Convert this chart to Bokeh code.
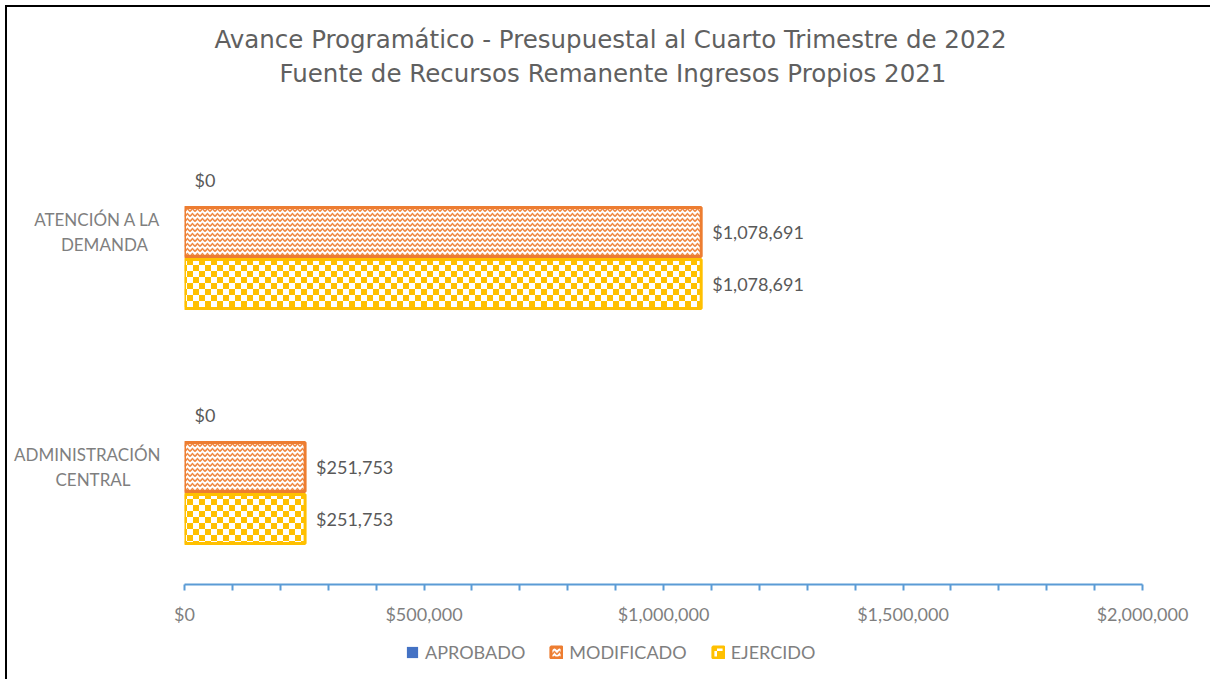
import base64
import struct
import zlib

from bokeh.plotting import figure
from bokeh.layouts import column, row
from bokeh.models import (Range1d, FixedTicker, NumeralTickFormatter, Title, Spacer,
                          ColumnDataSource, Legend, LegendItem, ImageURLTexture)
from bokeh.transform import dodge
from bokeh.core.properties import value
from bokeh.embed import file_html
from bokeh.resources import INLINE

# ---- data ----
categories = ["ADMINISTRACIÓN CENTRAL", "ATENCIÓN A LA DEMANDA"]   # bottom -> top
category_lines = [["ADMINISTRACIÓN", "CENTRAL"], ["ATENCIÓN A LA", "DEMANDA"]]
series_names = ["APROBADO", "MODIFICADO", "EJERCIDO"]
aprobado = [0, 0]
modificado = [251753, 1078691]
ejercido = [251753, 1078691]
x_ticks = list(range(0, 2000001, 100000))
x_label_ticks = [0, 500000, 1000000, 1500000, 2000000]
title_line1 = "Avance Programático - Presupuestal al Cuarto Trimestre de 2022"
title_line2 = "Fuente de Recursos Remanente Ingresos Propios 2021"

def money(v):
    return "${:,.0f}".format(v)

centers = [i + 0.5 for i in range(len(categories))]
src = ColumnDataSource(dict(
    cat=categories,
    ypos=centers,
    aprobado=aprobado,
    modificado=modificado,
    ejercido=ejercido,
    ap_txt=[money(v) for v in aprobado],
    mod_txt=[money(v) for v in modificado],
    eje_txt=[money(v) for v in ejercido],
))

GRAY = "#7F7F7F"
DARK = "#595959"
BLUE = "#4472C4"
ORANGE = "#ED7D31"
YELLOW = "#FFC000"
AXIS_BLUE = "#5B9BD5"
FONT = "Lato"
TFONT = "DejaVu Sans"
W = 1203
H_MAIN = 626
H_LEG = 46


# small checkerboard tile (texture for the EJERCIDO bars)
def checker_png(cell=6, rgba=(255, 192, 0, 255)):
    n = cell * 2
    rows = []
    for yy in range(n):
        r = bytearray(b"\x00")
        for xx in range(n):
            on = ((xx // cell) + (yy // cell)) % 2 == 0
            r += bytes(rgba) if on else bytes((255, 255, 255, 255))
        rows.append(bytes(r))
    raw = b"".join(rows)

    def chunk(t, d):
        return (struct.pack(">I", len(d)) + t + d +
                struct.pack(">I", zlib.crc32(t + d) & 0xFFFFFFFF))
    png = (b"\x89PNG\r\n\x1a\n" +
           chunk(b"IHDR", struct.pack(">IIBBBBB", n, n, 8, 6, 0, 0, 0)) +
           chunk(b"IDAT", zlib.compress(raw)) + chunk(b"IEND", b""))
    return "data:image/png;base64," + base64.b64encode(png).decode()


checker = ImageURLTexture(url=checker_png(), repetition="repeat")

p = figure(width=W, height=H_MAIN,
           y_range=Range1d(0, len(categories)),
           x_range=Range1d(0, 2000000),
           output_backend="svg", toolbar_location=None,
           min_border_left=177, min_border_right=W - 1135,
           min_border_bottom=49, min_border_top=107)

p.title.text = title_line1
p.title.align = "left"
p.title.offset = 30
p.title.text_font = TFONT
p.title.text_font_size = "24.5px"
p.title.text_font_style = "normal"
p.title.text_color = "#606060"
p.title.standoff = 4
gap = Title(text=" ", text_font_size="1px", standoff=23)
p.add_layout(gap, "above")
t2 = Title(text=title_line2, align="left", offset=95, text_font=TFONT,
           text_font_size="24.5px", text_font_style="normal", text_color="#606060",
           standoff=2)
p.add_layout(t2, "above")

off = 0.221
h = 0.208

ap_style = dict(fill_color=BLUE, line_alpha=0)
mod_style = dict(fill_color="white", line_color=ORANGE, line_width=3,
                 hatch_pattern=value("horizontal_wave"), hatch_color=ORANGE,
                 hatch_scale=5, hatch_weight=1.6, hatch_alpha=0.9)
eje_style = dict(fill_color="white", line_color=YELLOW, line_width=3,
                 hatch_pattern=value("checker"), hatch_extra={"checker": checker},
                 hatch_color=YELLOW, hatch_scale=12)

p.hbar(y=dodge("ypos", off), left=0, right="aprobado", height=h, source=src, **ap_style)
p.hbar(y=dodge("ypos", 0), left=0, right="modificado", height=h, source=src, **mod_style)
p.hbar(y=dodge("ypos", -off), left=0, right="ejercido", height=h, source=src, **eje_style)

for col, txt, o, xo in [("aprobado", "ap_txt", off, 10), ("modificado", "mod_txt", 0, 11),
                        ("ejercido", "eje_txt", -off, 11)]:
    p.text(x=col, y=dodge("ypos", o), text=txt, source=src,
           x_offset=xo, text_baseline="middle", text_align="left",
           text_font=value(FONT), text_font_size="18px", text_color=DARK)

# y axis: two-line category labels (one tick per line)
line_gap = 0.053
pad_by_cat = [7, 3]   # non-breaking spaces after the 2nd line, to centre it under the 1st
y_ticks, y_over = [], {}
for c, lines, pb in zip(centers, category_lines, pad_by_cat):
    t_top, t_bot = c + line_gap, c - line_gap
    y_ticks += [t_bot, t_top]
    y_over[t_top] = lines[0]
    y_over[t_bot] = lines[1] + "\u00a0" * pb
yax = p.yaxis[0]
yax.ticker = FixedTicker(ticks=y_ticks, minor_ticks=[])
yax.major_label_overrides = y_over
yax.axis_line_color = None
yax.major_tick_line_color = None
yax.minor_tick_line_color = None
yax.major_label_standoff = 18
yax.major_label_text_font = FONT
yax.major_label_text_font_size = "17px"
yax.major_label_text_color = GRAY

p.xgrid.visible = False
p.ygrid.visible = False
p.outline_line_color = None
ax = p.xaxis[0]
ax.ticker = FixedTicker(ticks=x_ticks, minor_ticks=[])
ax.formatter = NumeralTickFormatter(format="$0,0")
ax.major_label_overrides = {t: "" for t in x_ticks if t not in x_label_ticks}
ax.axis_line_color = AXIS_BLUE
ax.axis_line_width = 2
ax.major_tick_line_color = AXIS_BLUE
ax.major_tick_line_width = 2
ax.major_tick_in = 0
ax.major_tick_out = 6
ax.major_label_standoff = 12
ax.major_label_text_font = FONT
ax.major_label_text_font_size = "18px"
ax.major_label_text_color = GRAY

# legend in its own strip below the chart
p2 = figure(width=W, height=H_LEG, x_axis_type=None, y_axis_type=None,
            output_backend="svg", toolbar_location=None, min_border=0,
            x_range=Range1d(0, 1), y_range=Range1d(0, 1))
p2.outline_line_color = None
p2.xgrid.visible = False
p2.ygrid.visible = False
hidden = ColumnDataSource(dict(y=[-5], r=[0]))
l_ap = p2.hbar(y="y", right="r", left=0, height=0.1, source=hidden, **ap_style)
l_mod = p2.hbar(y="y", right="r", left=0, height=0.1, source=hidden, **mod_style)
l_eje = p2.hbar(y="y", right="r", left=0, height=0.1, source=hidden, **eje_style)
legend = Legend(items=[LegendItem(label=series_names[0], renderers=[l_ap]),
                       LegendItem(label=series_names[1], renderers=[l_mod]),
                       LegendItem(label=series_names[2], renderers=[l_eje])],
                orientation="horizontal", location=(221, 16),
                border_line_color=None, background_fill_alpha=0,
                padding=0, margin=0, spacing=24, label_standoff=6,
                glyph_width=14, glyph_height=14, label_height=20,
                label_text_font=FONT, label_text_font_size="18px",
                label_text_color=GRAY)
p2.add_layout(legend)

# black frame lines (top and left) around the chart, built from plain spacers
black = {"background-color": "black"}
charts = column(p, p2, spacing=0)
layout = column(
    Spacer(width=5, height=5),
    row(Spacer(width=5, height=2), Spacer(width=W + 2, height=2, styles=black), spacing=0),
    row(Spacer(width=5, height=H_MAIN + H_LEG),
        Spacer(width=2, height=H_MAIN + H_LEG, styles=black),
        charts, spacing=0),
    spacing=0)
open("out.html", "w").write(file_html(layout, INLINE))
